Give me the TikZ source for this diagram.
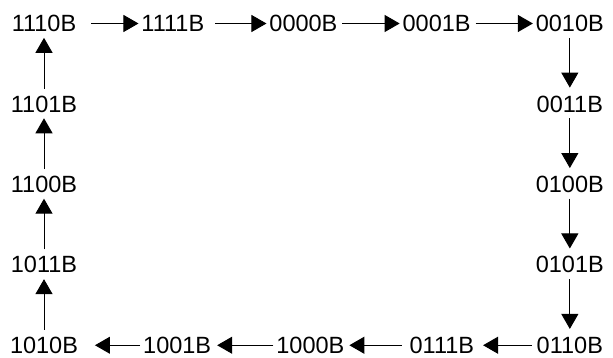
\documentclass[tikz,border=0pt]{standalone}
\usepackage{fontspec}
\setmainfont{Liberation Sans}
\usepackage{tikz}
\usetikzlibrary{arrows.meta,positioning}

\tikzset{
  cnt/.style={font=\fontsize{23.5}{28}\selectfont, inner sep=0pt, outer sep=0pt},
  arr/.style={-{Triangle[length=15pt,width=17pt]}, line width=1pt},
}

\begin{document}
\begin{tikzpicture}[node distance=63.8pt and 65.25pt, every node/.style={cnt}]
  \useasboundingbox (-44pt,23.5pt) rectangle (569pt,-334.5pt);
  % top row
  \node (c14) {1110B};
  \node (c15) [right=of c14] {1111B};
  \node (c0) [right=of c15] {0000B};
  \node (c1) [right=of c0] {0001B};
  \node (c2) [right=of c1] {0010B};
  % right column
  \node (c3) [below=of c2] {0011B};
  \node (c4) [below=of c3] {0100B};
  \node (c5) [below=of c4] {0101B};
  \node (c6) [below=of c5] {0110B};
  % left column
  \node (c13) [below=of c14] {1101B};
  \node (c12) [below=of c13] {1100B};
  \node (c11) [below=of c12] {1011B};
  \node (c10) [below=of c11] {1010B};
  % bottom row
  \node (c9) [right=of c10] {1001B};
  \node (c8) [right=of c9] {1000B};
  \node (c7) [right=of c8] {0111B};

  \draw[arr, shorten <=15pt, shorten >=3pt] (c14) to (c15);
  \draw[arr, shorten <=11pt, shorten >=3pt] (c15) to (c0);
  \draw[arr, shorten <=5pt, shorten >=3pt] (c0) to (c1);
  \draw[arr, shorten <=5pt, shorten >=3pt] (c1) to (c2);
  \draw[arr, shorten <=6pt, shorten >=8pt] (c2) to (c3);
  \draw[arr, shorten <=6pt, shorten >=8pt] (c3) to (c4);
  \draw[arr, shorten <=6pt, shorten >=8pt] (c4) to (c5);
  \draw[arr, shorten <=6pt, shorten >=8pt] (c5) to (c6);
  \draw[arr, shorten <=5pt, shorten >=9pt] (c6) to (c7);
  \draw[arr, shorten <=8pt, shorten >=5pt] (c7) to (c8);
  \draw[arr, shorten <=3pt, shorten >=6pt] (c8) to (c9);
  \draw[arr, shorten <=3pt, shorten >=17pt] (c9) to (c10);
  \draw[arr, shorten <=7pt, shorten >=6pt] (c10) to (c11);
  \draw[arr, shorten <=7pt, shorten >=6pt] (c11) to (c12);
  \draw[arr, shorten <=7pt, shorten >=6pt] (c12) to (c13);
  \draw[arr, shorten <=7pt, shorten >=6pt] (c13) to (c14);
\end{tikzpicture}
\end{document}
